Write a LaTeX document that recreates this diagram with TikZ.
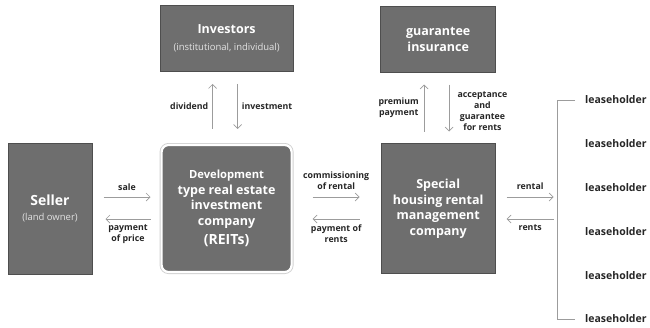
\documentclass[tikz,border=0pt]{standalone}
\usepackage{fontspec}
\setmainfont{Open Sans}
\usetikzlibrary{positioning, arrows.meta}

\definecolor{boxgray}{HTML}{6E6E6E}
\definecolor{boxedge}{HTML}{4E4E4E}
\definecolor{flowgray}{HTML}{9C9C9C}
\definecolor{subgray}{HTML}{E2E2E2}

\tikzset{
	box/.style={draw=boxedge, line width=1pt, fill=boxgray, text=white, align=center,
		inner sep=0pt, font=\bfseries\fontsize{12.5}{15.5}\selectfont},
	roundbox/.style={box, draw=white, line width=2.2pt, rounded corners=7pt,
		preaction={draw=black!18, line width=4pt, rounded corners=7pt}},
	flow/.style={draw=flowgray, line width=0.7pt, -{Straight Barb[length=4pt, width=8pt]}},
	lbl/.style={inner sep=0pt, align=center, text=black!85,
		font=\bfseries\fontsize{8.8}{11}\selectfont},
	lease/.style={inner sep=0pt, anchor=west, minimum height=43.4pt, text=black!85,
		font=\bfseries\fontsize{10.5}{12}\selectfont},
}
\newcommand{\subtxt}[1]{{\normalfont\color{subgray}\fontsize{9.5}{11}\selectfont #1}}

\begin{document}
\begin{tikzpicture}[x=1pt, y=1pt]
	\useasboundingbox (0,0) rectangle (650,-327);

	% middle row
	\node[box, minimum width=84pt, minimum height=131pt] (seller) at (50,-208.5)
		{\fontsize{14}{17}\selectfont Seller\\\subtxt{(land owner)}};
	\node[roundbox, minimum width=130pt, minimum height=127pt, right=68pt of seller] (reits)
		{\fontsize{11.2}{15}\selectfont Development\\type real estate\\investment\\company\\[4pt]
		 \fontsize{14}{17}\selectfont (REITs)};
	\node[box, minimum width=114pt, minimum height=130pt, right=88pt of reits] (special)
		{Special\\housing rental\\management\\company};

	% top row
	\node[box, minimum width=133pt, minimum height=66pt, above=72pt of reits] (investors)
		{Investors\\[1pt]\subtxt{(institutional,\ individual)}};
	\node[box, minimum width=115pt, minimum height=66pt, above=70pt of special] (guarantee)
		{guarantee\\insurance};

	% seller <-> reits
	\coordinate[above right=11.5pt and 11pt of seller.east] (sale-s);
	\coordinate[above left=11.5pt and 10pt of reits.west] (sale-e);
	\draw[flow] (sale-s) -- (sale-e) node[lbl, midway, above=6pt] {sale};
	\coordinate[below left=10.5pt and 10pt of reits.west] (price-s);
	\coordinate[below right=10.5pt and 13pt of seller.east] (price-e);
	\draw[flow] (price-s) -- (price-e) node[lbl, midway, below=5pt] {payment\\of price};

	% reits <-> special
	\coordinate[above right=11.5pt and 20pt of reits.east] (comm-s);
	\coordinate[above left=11.5pt and 21pt of special.west] (comm-e);
	\draw[flow] (comm-s) -- (comm-e) node[lbl, midway, above=7pt] {commissioning\\of rental};
	\coordinate[below left=10.5pt and 21pt of special.west] (rpay-s);
	\coordinate[below right=10.5pt and 20pt of reits.east] (rpay-e);
	\draw[flow] (rpay-s) -- (rpay-e) node[lbl, midway, below=5pt] {payment of\\rents};

	% special <-> leaseholders
	\coordinate[above right=11.5pt and 11pt of special.east] (rent-s);
	\coordinate[above right=11.5pt and 58pt of special.east] (rent-e);
	\draw[flow] (rent-s) -- (rent-e) node[lbl, midway, above=7pt] {rental};
	\coordinate[below right=10.5pt and 58pt of special.east] (rents-s);
	\coordinate[below right=10.5pt and 11pt of special.east] (rents-e);
	\draw[flow] (rents-s) -- (rents-e) node[lbl, midway, below=5pt] {rents};

	% investors <-> reits
	\coordinate[above left=15pt and 14pt of reits.north] (div-s);
	\coordinate[below left=12pt and 14pt of investors.south] (div-e);
	\draw[flow] (div-s) -- (div-e) node[lbl, midway, left=4pt] {dividend};
	\coordinate[below right=12pt and 11pt of investors.south] (inv-s);
	\coordinate[above right=15pt and 11pt of reits.north] (inv-e);
	\draw[flow] (inv-s) -- (inv-e) node[lbl, midway, right=4pt] {investment};

	% guarantee <-> special
	\coordinate[above left=11.5pt and 14pt of special.north] (prem-s);
	\coordinate[below left=11.5pt and 14pt of guarantee.south] (prem-e);
	\draw[flow] (prem-s) -- (prem-e) node[lbl, midway, left=5pt] {premium\\payment};
	\coordinate[below right=11.5pt and 11pt of guarantee.south] (acc-s);
	\coordinate[above right=11.5pt and 11pt of special.north] (acc-e);
	\draw[flow] (acc-s) -- (acc-e) node[lbl, midway, right=8pt, yshift=-3pt]
		{acceptance\\and\\guarantee\\for rents};

	% leaseholders
	\node[lease] (l1) at (585,-100) {leaseholder};
	\node[lease, below=0pt of l1] (l2) {leaseholder};
	\node[lease, below=0pt of l2] (l3) {leaseholder};
	\node[lease, below=0pt of l3] (l4) {leaseholder};
	\node[lease, below=0pt of l4] (l5) {leaseholder};
	\node[lease, below=0pt of l5] (l6) {leaseholder};
	\draw[flowgray, line width=0.7pt] ([xshift=-10pt]l1.west) -- ++(-18pt,0)
		|- ([xshift=-10pt]l6.west);
\end{tikzpicture}
\end{document}
